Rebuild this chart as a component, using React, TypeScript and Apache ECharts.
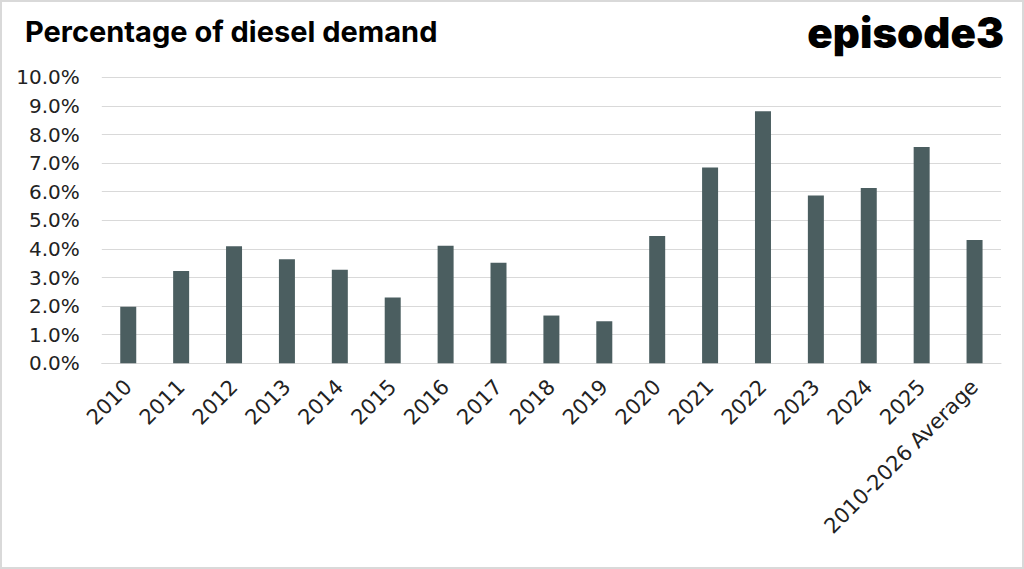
import React, { useEffect, useRef } from "react";
import * as echarts from "echarts";

const categories = [
  "2010", "2011", "2012", "2013", "2014", "2015", "2016", "2017", "2018",
  "2019", "2020", "2021", "2022", "2023", "2024", "2025", "2010-2026 Average",
];
const shareValues = [
  1.98, 3.23, 4.09, 3.64, 3.27, 2.3, 4.11, 3.52, 1.67,
  1.47, 4.45, 6.85, 8.81, 5.87, 6.13, 7.56, 4.31,
];
const yMin = 0;
const yMax = 10;
const yInterval = 1;

export default function App() {
  const ref = useRef<HTMLDivElement>(null);
  useEffect(() => {
    if (!ref.current) return;
    const chart = echarts.init(ref.current, null, { renderer: "svg" });
    chart.setOption({
      animation: false,
      backgroundColor: "#ffffff",
      textStyle: { fontFamily: "DejaVu Sans" },
      graphic: [
        {
          type: "rect",
          shape: { x: 1, y: 1, width: 1022, height: 567 },
          style: { fill: "none", stroke: "#d9d9d9", lineWidth: 2 },
          silent: true,
        },
        {
          type: "text",
          left: 25,
          top: 17,
          style: {
            text: "Percentage of diesel demand",
            fontFamily: "Inter",
            fontWeight: 700,
            fontSize: 29,
            fill: "#000000",
          },
        },
        {
          type: "text",
          right: 20,
          top: 11,
          style: {
            text: "episode3",
            fontFamily: "Inter",
            fontWeight: 900,
            fontSize: 42,
            fill: "#000000",
          },
        },
      ],
      grid: { left: 101.8, right: 23, top: 77.3, bottom: 205.7, containLabel: false },
      xAxis: {
        type: "category",
        data: categories,
        axisLine: { show: true, lineStyle: { color: "#d9d9d9", width: 1 } },
        axisTick: { show: false },
        axisLabel: {
          rotate: 45,
          interval: 0,
          margin: 20,
          fontSize: 21,
          color: "#222222",
          fontFamily: "DejaVu Sans",
        },
      },
      yAxis: {
        type: "value",
        min: yMin,
        max: yMax,
        interval: yInterval,
        axisLine: { show: false },
        axisTick: { show: false },
        splitLine: { lineStyle: { color: "#d9d9d9", width: 1 } },
        axisLabel: {
          margin: 22,
          fontSize: 20,
          color: "#222222",
          fontFamily: "DejaVu Sans",
          formatter: (v: number) => v.toFixed(1) + "%",
        },
      },
      series: [
        {
          type: "bar",
          data: shareValues,
          barWidth: 16,
          itemStyle: { color: "#4b5e60" },
        },
      ],
    });
    return () => chart.dispose();
  }, []);
  return (
    <div
      ref={ref}
      style={{ position: "absolute", left: 0, top: 0, width: 1024, height: 569 }}
    />
  );
}
